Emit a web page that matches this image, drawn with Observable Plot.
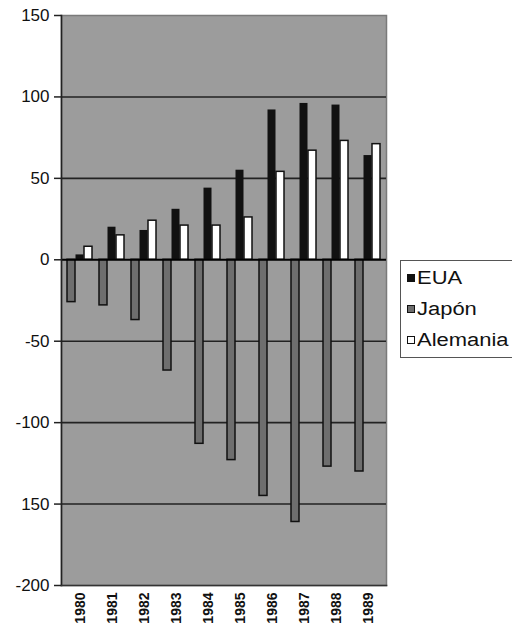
<!DOCTYPE html>
<html><head><meta charset="utf-8">
<script src="https://cdn.jsdelivr.net/npm/d3@7"></script>
<script src="https://cdn.jsdelivr.net/npm/@observablehq/plot@0.6"></script>
<style>
body{margin:0;background:#fff;font-family:"Liberation Sans",Arial,sans-serif;}
#wrap{position:relative;width:512px;height:627px;overflow:hidden;}
#legend{position:absolute;left:400px;top:260px;width:130px;height:98px;border:1.5px solid #555;background:#fff;box-sizing:border-box;}
.item{position:absolute;left:6px;height:20px;display:flex;align-items:center;}
.sw{width:8px;height:8px;box-sizing:border-box;border:1px solid #111;margin-right:2px;}
.lab{font-size:18px;color:#111;display:inline-block;transform:scaleX(1.22);transform-origin:left center;}
</style></head>
<body><div id="wrap"><div id="chart"></div><div id="legend"></div></div>
<script>
const years = ["1980","1981","1982","1983","1984","1985","1986","1987","1988","1989"];
const seriesNames = ["EUA","Japón","Alemania"];
const eua = [3,20,18,31,44,55,92,96,95,64];
const japon = [-26,-28,-37,-68,-113,-123,-145,-161,-127,-130];
const alemania = [8,15,24,21,21,26,54,67,73,71];
const yTicks = [-200,-150,-100,-50,0,50,100,150];
const yTickLabels = ["-200","150","-100","-50","0","50","100","150"];
const gridValues = [-150,-100,-50,50,100];

const rows = arr => years.map((y,i)=>({year:y,value:arr[i]}));
const labelMap = new Map(yTicks.map((t,i)=>[t,yTickLabels[i]]));

const chart = Plot.plot({
  width:512, height:627,
  marginLeft:61, marginRight:126, marginTop:15, marginBottom:42,
  x:{type:"band", domain:years, padding:0, label:null},
  y:{domain:[-200,150], label:null},
  style:{fontFamily:"'Liberation Sans', Arial, sans-serif", color:"#111", background:"transparent"},
  marks:[
    Plot.frame({fill:"#9c9c9c", stroke:"#7a7a7a", strokeWidth:1.5}),
    Plot.ruleY(gridValues, {stroke:"#222", strokeWidth:1.6}),
    Plot.barY(rows(japon), {x:"year", y:"value", fill:"#6e6e6e", stroke:"#111", strokeWidth:1.5, insetLeft:3, insetRight:21}),
    Plot.barY(rows(eua), {x:"year", y:"value", fill:"#111", insetLeft:11.5, insetRight:12.5}),
    Plot.barY(rows(alemania), {x:"year", y:"value", fill:"#fff", stroke:"#111", strokeWidth:1.5, insetLeft:20, insetRight:4}),
    Plot.ruleY([0], {stroke:"#000", strokeWidth:2}),
    Plot.frame({anchor:"left", stroke:"#222", strokeWidth:1.6}),
    Plot.frame({anchor:"bottom", stroke:"#333", strokeWidth:1.6}),
    Plot.axisY({ticks:yTicks, tickFormat:d=>labelMap.get(d), tickSize:7, tickPadding:5, fontSize:17, stroke:"#222", strokeWidth:1.5}),
    Plot.axisX({tickRotate:-90, tickSize:0, tickPadding:7, fontSize:14, fontWeight:"bold"})
  ]
});
document.getElementById("chart").appendChild(chart);

const legend = document.getElementById("legend");
const fills = {"EUA":"#111","Japón":"#6e6e6e","Alemania":"#fff"};
seriesNames.forEach((name,i)=>{
  const it = document.createElement("div");
  it.className="item";
  it.style.top = (7 + i*31) + "px";
  const sw = document.createElement("div");
  sw.className="sw"; sw.style.background = fills[name];
  const lab = document.createElement("span");
  lab.className="lab"; lab.textContent = name;
  it.appendChild(sw); it.appendChild(lab);
  legend.appendChild(it);
});
</script></body></html>
